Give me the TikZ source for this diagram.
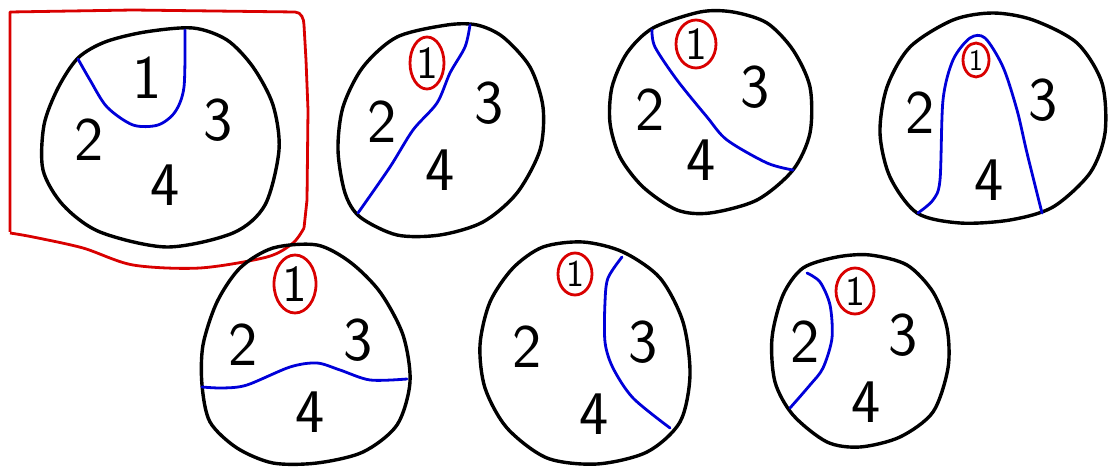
\documentclass[tikz,border=0pt]{standalone}
\usetikzlibrary{shapes.geometric}
\tikzset{
  blob/.style={draw=black, line width=3.4pt, line join=round},
  cut/.style={draw=blue!85!black, line width=2.8pt, line cap=round, line join=round},
  frame/.style={draw=red!85!black, line width=2.8pt, line join=round},
  digit/.style={inner sep=0pt, font=\fontsize{62}{62}\sffamily},
  one/.style={ellipse, draw=red!85!black, line width=2.8pt, inner sep=0pt, font=\fontsize{46}{46}\sffamily}
}
\begin{document}
\begin{tikzpicture}[x=1pt,y=-1pt]
\useasboundingbox (0,0) rectangle (1108,470);
\fill[white] (0,0) rectangle (1108,470);

% red frame
\draw[frame] (10,232) -- (10,12) -- (133,10) -- (295,12) to[out=0,in=90] (304,25)
  -- (306,60) -- (308,110) -- (307,200) -- (304,228)
  plot[smooth] coordinates {(304,228) (293,243) (267,257) (200,268) (133,265) (83,248) (33,237) (10,233)};

% ---- circle 1
\draw[blob] plot[smooth cycle] coordinates {(193,28) (227,40) (253,67) (273,105) (279,150) (265,205) (233,233) (167,247) (100,232) (63,205) (43,170) (44,125) (58,88) (78,58) (105,42) (145,32)};
\draw[cut] plot[smooth] coordinates {(78,59) (90,80) (107,107) (133,125) (158,125) (175,112) (184,87) (185,30)};
\node[digit] (a1) at (147,78) {1};
\node[digit] (a2) at (89,140) {2};
\node[digit] (a3) at (218,120) {3};
\node[digit] (a4) at (165,185) {4};

% ---- circle 2
\draw[blob] plot[smooth cycle] coordinates {(447,25) (397,37) (363,67) (343,107) (338,150) (345,193) (360,217) (397,235) (440,235) (483,222) (517,193) (540,150) (543,107) (530,67) (503,37) (477,25)};
\draw[cut] plot[smooth] coordinates {(470,25) (465,47) (450,73) (437,103) (413,130) (390,167) (358,213)};
\node[one, minimum width=34pt, minimum height=52pt] (b1) at (427,63) {1};
\node[digit] (b2) at (382,122) {2};
\node[digit] (b3) at (489,103) {3};
\node[digit] (b4) at (440,170) {4};

% ---- circle 3
\draw[blob] plot[smooth cycle] coordinates {(700,12) (653,28) (627,53) (612,87) (610,123) (620,157) (643,187) (677,210) (710,213) (757,200) (793,170) (810,133) (810,87) (793,50) (767,23) (733,12)};
\draw[cut] plot[smooth] coordinates {(652,30) (655,47) (677,80) (707,117) (727,140) (767,163) (793,170)};
\node[one, minimum width=40pt, minimum height=48pt] (c1) at (696,44) {1};
\node[digit] (c2) at (650,110) {2};
\node[digit] (c3) at (755,87) {3};
\node[digit] (c4) at (701,160) {4};

% ---- circle 4
\draw[blob] plot[smooth cycle] coordinates {(993,13) (953,20) (910,47) (887,87) (880,133) (890,177) (917,213) (960,223) (1010,220) (1053,207) (1090,173) (1105,133) (1102,83) (1077,43) (1033,20)};
\draw[cut] plot[smooth] coordinates {(918,213) (933,200) (940,180) (943,100) (953,60) (970,38) (985,38) (1003,67) (1017,110) (1027,153) (1042,213)};
\node[one, minimum width=26pt, minimum height=34pt, font=\fontsize{30}{30}\sffamily] (d1) at (976,60) {1};
\node[digit] (d2) at (920,113) {2};
\node[digit] (d3) at (1043,100) {3};
\node[digit] (d4) at (989,180) {4};

% ---- circle 5
\draw[blob] plot[smooth cycle] coordinates {(273,248) (240,268) (217,302) (203,345) (202,385) (210,422) (237,448) (273,463) (317,463) (363,452) (397,425) (410,382) (403,335) (380,292) (350,262) (317,245)};
\draw[cut] plot[smooth] coordinates {(202,387) (223,388) (247,385) (290,367) (317,363) (340,370) (370,380) (407,379)};
\node[one, minimum width=42pt, minimum height=58pt, font=\fontsize{52}{52}\sffamily] (e1) at (295,284) {1};
\node[digit] (e2) at (243,345) {2};
\node[digit] (e3) at (358,340) {3};
\node[digit] (e4) at (310,412) {4};

% ---- circle 6
\draw[blob] plot[smooth cycle] coordinates {(543,247) (513,268) (490,302) (480,345) (485,388) (507,428) (547,458) (597,464) (647,452) (680,422) (690,375) (683,322) (660,278) (623,252) (583,242)};
\draw[cut] plot[smooth] coordinates {(622,257) (608,278) (605,302) (605,342) (613,368) (633,398) (670,428)};
\node[one, minimum width=34pt, minimum height=42pt, font=\fontsize{38}{38}\sffamily] (f1) at (575,274) {1};
\node[digit] (f2) at (527,347) {2};
\node[digit] (f3) at (643,342) {3};
\node[digit] (f4) at (594,414) {4};

% ---- circle 7
\draw[blob] plot[smooth cycle] coordinates {(837,257) (803,268) (783,295) (772,338) (775,382) (793,415) (827,442) (860,447) (900,437) (933,412) (948,368) (947,328) (933,292) (907,265) (870,255)};
\draw[cut] plot[smooth] coordinates {(807,273) (820,282) (830,305) (832,338) (823,368) (810,385) (790,408)};
\node[one, minimum width=38pt, minimum height=46pt, font=\fontsize{42}{42}\sffamily] (g1) at (855,291) {1};
\node[digit] (g2) at (805,342) {2};
\node[digit] (g3) at (903,335) {3};
\node[digit] (g4) at (866,402) {4};
\end{tikzpicture}
\end{document}
